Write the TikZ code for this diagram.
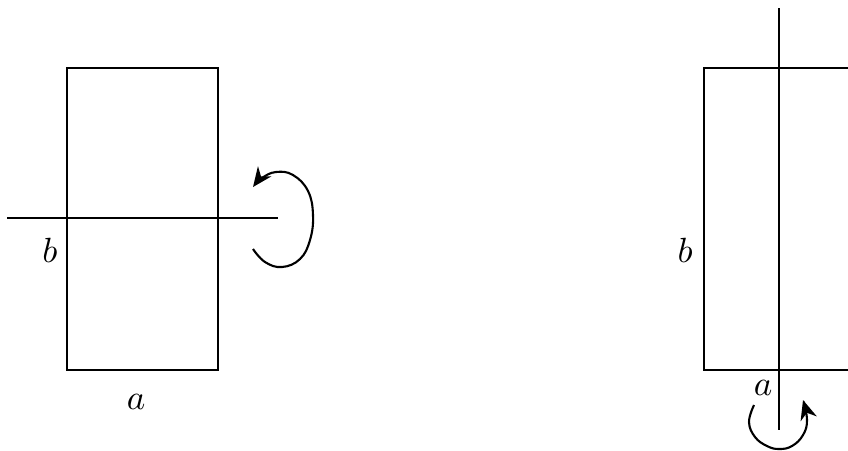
\documentclass[tikz,border=0pt]{standalone}
\usetikzlibrary{arrows.meta}
\begin{document}
\begin{tikzpicture}[x=0.2857pt,y=-0.2857pt,line width=0.6pt,
  lbl/.style={inner sep=0pt},
  rot/.style={-{Stealth[length=5.6pt,width=4.8pt,inset=1.8pt]}}]
\useasboundingbox (0,0) rectangle (848,450);
\clip (0,0) rectangle (848,450);
% left figure
\draw (67,68) rectangle (218,370);
\coordinate (hl) at (7,218);
\coordinate (hr) at (278,218);
\draw (hl) -- (hr);
\node[lbl] (bL) at (50,250) {$b$};
\node[lbl] (aL) at (136,402) {$a$};
\draw[rot] plot[smooth,tension=0.7] coordinates {(253,249) (265,262) (282,267) (300,259) (310,240) (313,215) (308,191) (293,175) (276,172) (262,178) (253,187)};
% right figure
\draw (704,68) rectangle (870,370);
\coordinate (vt) at (779,8);
\coordinate (vb) at (779,430);
\draw (vt) -- (vb);
\node[lbl] (bR) at (685,250) {$b$};
\node[lbl] (aR) at (763,388) {$a$};
\draw[rot] plot[smooth,tension=0.7] coordinates {(754,405) (749,422) (755,437) (767,446) (779,449) (792,446) (803,435) (807,420) (803,400)};
\end{tikzpicture}
\end{document}
